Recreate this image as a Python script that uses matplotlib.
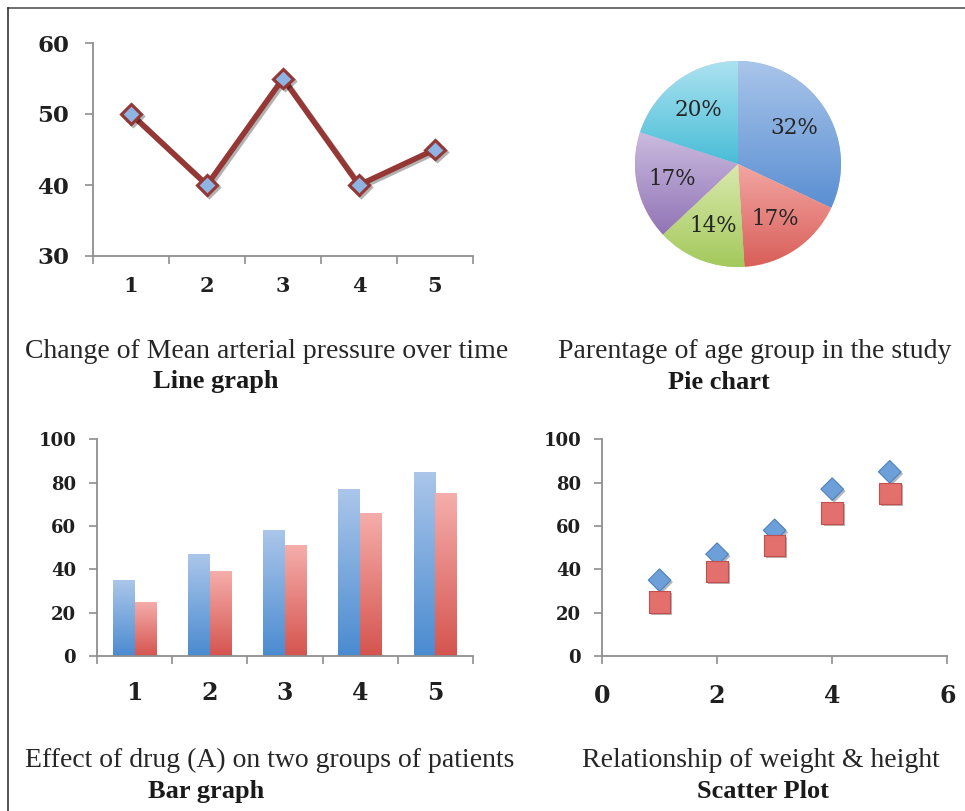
import numpy as np
import matplotlib
matplotlib.use("Agg")
import matplotlib.pyplot as plt
from matplotlib.colors import LinearSegmentedColormap
import matplotlib.patheffects as pe
from matplotlib.lines import Line2D

W, H, DPI = 965, 811, 100

# ---------------- data ----------------
time_points = [1, 2, 3, 4, 5]
map_values = [50, 40, 55, 40, 45]
line_yticks = [30, 40, 50, 60]

age_shares = [32, 17, 14, 17, 20]
age_top_colors = ["#a9c5ea", "#f2a6a2", "#d9e9ad", "#cbbbdf", "#ace2f1"]
age_bot_colors = ["#5a8fd2", "#d95e59", "#a4c95c", "#9174b6", "#48bdd6"]

groups = [1, 2, 3, 4, 5]
group_a = [35, 47, 58, 77, 85]
group_b = [25, 39, 51, 66, 75]
bar_yticks = [0, 20, 40, 60, 80, 100]

scatter_x = [1, 2, 3, 4, 5]
height_a = [35, 47, 58, 77, 85]
height_b = [25, 39, 51, 66, 75]
scatter_xticks = [0, 2, 4, 6]
scatter_yticks = [0, 20, 40, 60, 80, 100]

captions = [
    ("Change of Mean arterial pressure over time", "Line graph"),
    ("Parentage of age group in the study", "Pie chart"),
    ("Effect of drug (A) on two groups of patients", "Bar graph"),
    ("Relationship of weight & height", "Scatter Plot"),
]

# ---------------- helpers ----------------
fig = plt.figure(figsize=(W / DPI, H / DPI), dpi=DPI)
fig.patch.set_facecolor("white")

SPINE = "#8f8f8f"
TXT = "#1f1f1f"
NUMFONT = "DejaVu Serif"
CAPFONT = "Liberation Serif"


def px_axes(l, t, r, b):
    return fig.add_axes([l / W, 1 - b / H, (r - l) / W, (b - t) / H])


def style(ax, ysize, xsize, ypad, xpad):
    for s in ("top", "right"):
        ax.spines[s].set_visible(False)
    for s in ("left", "bottom"):
        ax.spines[s].set_color(SPINE)
        ax.spines[s].set_linewidth(1.3)
    ax.tick_params(axis="both", which="major", direction="out", length=6,
                   width=1.2, color=SPINE)
    ax.tick_params(axis="y", labelsize=ysize, pad=ypad, labelcolor=TXT)
    ax.tick_params(axis="x", labelsize=xsize, pad=xpad, labelcolor=TXT)
    ax.tick_params(axis="x", which="minor", length=0, labelsize=xsize,
                   pad=xpad + 5.3, labelcolor=TXT)
    for lab in ax.get_xticklabels(which="both") + ax.get_yticklabels():
        lab.set_fontfamily(NUMFONT)
        lab.set_fontweight("bold")
    ax.set_facecolor("none")


def grad_fill(ax, patch, ctop, cbot, extent, z):
    cmap = LinearSegmentedColormap.from_list("g", [cbot, ctop])
    grad = np.linspace(0, 1, 256).reshape(-1, 1)
    im = ax.imshow(grad, cmap=cmap, extent=extent, origin="lower",
                   aspect="auto", zorder=z, interpolation="bilinear")
    im.set_clip_path(patch)
    return im


# ---------------- line graph ----------------
ax1 = px_axes(93, 43, 473, 256)
shadow = [pe.SimpleLineShadow(offset=(1.5, -1.5), alpha=0.3, shadow_color="k"),
          pe.Normal()]
ax1.plot(time_points, map_values, color="#953735", lw=4.0, marker="D",
         markersize=10, markerfacecolor="#8db4e3", markeredgecolor="#953735",
         markeredgewidth=2.2, path_effects=shadow, zorder=3)
ax1.set_xlim(0.5, 5.5)
ax1.set_ylim(30, 60)
ax1.set_yticks(line_yticks)
ax1.set_xticks(np.arange(0.5, 6.0, 1.0))
ax1.set_xticklabels([])
ax1.set_xticks(time_points, minor=True)
ax1.set_xticklabels([str(t) for t in time_points], minor=True)
style(ax1, 16.5, 15, 11, 9)

# ---------------- pie chart ----------------
cx, cy, R = 738, 164, 103
axp = px_axes(cx - R, cy - R, cx + R, cy + R)
wedges, texts, autotexts = axp.pie(
    age_shares, startangle=90, counterclock=False, radius=1,
    autopct=lambda p: f"{p:.0f}%", pctdistance=0.65,
    wedgeprops=dict(edgecolor="white", linewidth=0.4),
    textprops=dict(fontsize=15.5, family=NUMFONT, color="#262626"))
for w, ct, cb in zip(wedges, age_top_colors, age_bot_colors):
    bb = w.get_path().get_extents()
    grad_fill(axp, w, ct, cb, [bb.x0, bb.x1, bb.y0, bb.y1], 1.5)
for t in autotexts:
    t.set_zorder(5)
axp.set_xlim(-1, 1)
axp.set_ylim(-1, 1)
axp.set_aspect("equal")
axp.axis("off")

# ---------------- bar graph ----------------
ax3 = px_axes(97, 439.3, 473, 656)
bw = 0.29
xg = np.array(groups, dtype=float)
bars_a = ax3.bar(xg - bw / 2, group_a, width=bw, color="#79a7dc", zorder=2)
bars_b = ax3.bar(xg + bw / 2, group_b, width=bw, color="#e8807c", zorder=2)
for b in bars_a:
    grad_fill(ax3, b, "#abc6ea", "#4a8bd0",
              [b.get_x(), b.get_x() + b.get_width(), 0, b.get_height()], 2.5)
for b in bars_b:
    grad_fill(ax3, b, "#f5aeab", "#d5544f",
              [b.get_x(), b.get_x() + b.get_width(), 0, b.get_height()], 2.5)
ax3.set_xlim(0.5, 5.5)
ax3.set_ylim(0, 100)
ax3.set_yticks(bar_yticks)
ax3.set_xticks(np.arange(0.5, 6.0, 1.0))
ax3.set_xticklabels([])
ax3.set_xticks(groups, minor=True)
ax3.set_xticklabels([str(g) for g in groups], minor=True)
style(ax3, 13, 17, 9, 13)

# ---------------- scatter plot ----------------
ax4 = px_axes(602, 439.3, 947.3, 656)
sh = [pe.SimplePatchShadow(offset=(1.5, -1.5), alpha=0.35), pe.Normal()]
ax4.scatter(scatter_x, height_a, marker="D", s=11.5 ** 2, color="#6d9fd9",
            edgecolor="#4f81bd", linewidth=0.8, zorder=3, path_effects=sh)
ax4.scatter(scatter_x, height_b, marker="s", s=15.5 ** 2, color="#e3706d",
            edgecolor="#c0504d", linewidth=0.8, zorder=4, path_effects=sh)
ax4.set_xlim(0, 6)
ax4.set_ylim(0, 100)
ax4.set_xticks(scatter_xticks)
ax4.set_yticks(scatter_yticks)
style(ax4, 13, 17, 9, 14)

# ---------------- captions ----------------
cap_pos = [
    ((25, 358), (153, 388)),
    ((558, 358), (668, 389)),
    ((25, 767), (148, 798)),
    ((582, 767), (697, 798)),
]
for (l1, l2), ((x1, y1), (x2, y2)) in zip(captions, cap_pos):
    fig.text(x1 / W, 1 - y1 / H, l1, ha="left", va="baseline",
             family=CAPFONT, fontsize=20, color="#262626")
    fig.text(x2 / W, 1 - y2 / H, l2, ha="left", va="baseline",
             family=CAPFONT, fontsize=19, fontweight="bold", color="#1a1a1a")

# ---------------- frame ----------------
fig.add_artist(Line2D([8 / W, 1], [1 - 7.5 / H, 1 - 7.5 / H],
                      transform=fig.transFigure, color="#555555", lw=1.2))
fig.add_artist(Line2D([8 / W, 8 / W], [1 - 7.5 / H, 0],
                      transform=fig.transFigure, color="#333333", lw=1.2))

fig.savefig("out.png", dpi=DPI)
